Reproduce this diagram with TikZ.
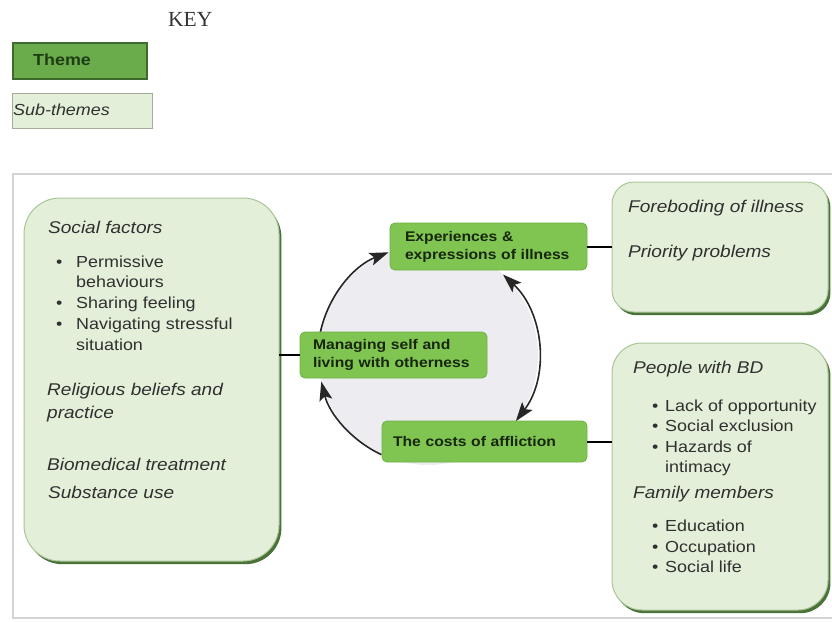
\documentclass[tikz,border=0pt]{standalone}
\usepackage{fontspec}
\setmainfont{Liberation Sans}[FakeStretch=1.12]
\newfontfamily\keyfont{Liberation Serif}
\usetikzlibrary{arrows.meta,shadows}

\definecolor{keygreen}{HTML}{6AAB4B}
\definecolor{keyedge}{HTML}{3E6A2F}
\definecolor{keytext}{HTML}{1F3D14}
\definecolor{keysubedge}{HTML}{A3AB9B}
\definecolor{subfill}{HTML}{E3EFD9}
\definecolor{subedge}{HTML}{A9C597}
\definecolor{subshadow}{HTML}{4A733A}
\definecolor{themefill}{HTML}{80C552}
\definecolor{themeedge}{HTML}{6DB043}
\definecolor{themetext}{HTML}{17260D}
\definecolor{ringfill}{HTML}{ECECF1}
\definecolor{frameline}{HTML}{D4D4D4}
\definecolor{subtext}{HTML}{303030}
\definecolor{arrowgrey}{HTML}{262626}

\tikzset{
  subbox/.style={draw=subedge, line width=1pt, fill=subfill, inner sep=0pt, outer sep=0pt,
    general shadow={fill=subshadow, shadow xshift=2.4pt, shadow yshift=-3.2pt}},
  theme/.style={draw=themeedge, line width=0.8pt, fill=themefill, rounded corners=5pt,
    text=themetext, font=\fontsize{14}{18}\selectfont\bfseries, align=left,
    inner ysep=0pt, outer sep=0pt},
  subhead/.style={anchor=base west, inner sep=0pt, text=subtext,
    font=\fontsize{17}{20}\selectfont\itshape},
  item/.style={anchor=base west, inner sep=0pt, text=subtext,
    font=\fontsize{16}{20}\selectfont},
  ringtip/.tip={Stealth[length=19pt,width=13pt,inset=4pt]},
  arr/.style={draw=arrowgrey, line width=1.6pt, -ringtip},
  arrboth/.style={draw=arrowgrey, line width=1.6pt, ringtip-ringtip},
  link/.style={draw=black, line width=2pt},
}

\begin{document}
\begin{tikzpicture}[x=1pt,y=1pt]
\useasboundingbox (0,0) rectangle (832,-621);

% key
\node[anchor=base west, inner sep=0pt, text=black!80, font=\keyfont\fontsize{21.5}{24}\selectfont]
  (keytitle) at (168,-26) {KEY};
\node[draw=keyedge, line width=1.4pt, fill=keygreen, minimum width=134pt, minimum height=36pt,
  inner sep=0pt] (keytheme) at (80,-61) {};
\node[anchor=base west, inner sep=0pt, text=keytext, font=\fontsize{16}{20}\selectfont\bfseries]
  (keythemetext) at (33,-65) {Theme};
\node[draw=keysubedge, line width=1pt, fill=subfill, minimum width=140pt, minimum height=35pt,
  inner sep=0pt] (keysub) at (82.7,-110.5) {};
\node[anchor=base west, inner sep=0pt, text=subtext, font=\fontsize{16}{20}\selectfont\itshape]
  (keysubtext) at (13,-115) {Sub-themes};

% frame
\draw[frameline, line width=1.2pt] (832,-174) -- (13,-174) -- (13,-618) -- (832,-618);

% ring
\coordinate (C) at (428,-355);
\fill[ringfill] (C) circle[radius=110];
\draw[arr] ([shift={(168:110)}]C) arc[start angle=168, end angle=111, radius=110];
\draw[arrboth] ([shift={(47:110)}]C) arc[start angle=47, end angle=-37, radius=110];
\draw[arr] ([shift={(245:110)}]C) arc[start angle=245, end angle=194, radius=110];

% sub-theme boxes
\node[subbox, rounded corners=36pt, minimum width=255pt, minimum height=363pt]
  (factors) at (151.5,-379.5) {};
\node[subbox, rounded corners=22pt, minimum width=216pt, minimum height=130pt]
  (foreboding) at (720,-247) {};
\node[subbox, rounded corners=30pt, minimum width=216pt, minimum height=267pt]
  (costsbox) at (720,-476.5) {};

% theme boxes
\node[theme, minimum width=187pt, minimum height=46pt, inner xsep=13pt, text width=161pt]
  (manage) at (393.5,-355) {\mbox{Managing self and}\\\mbox{living with otherness}};
\node[theme, minimum width=197pt, minimum height=47pt, inner xsep=15pt, text width=167pt]
  (exp) at (488.5,-246.5) {\mbox{Experiences \&}\\\mbox{expressions of illness}};
\node[theme, minimum width=205pt, minimum height=41pt, inner xsep=11pt, text width=183pt]
  (costs) at (484.5,-441.5) {\mbox{The costs of affliction}};

% links
\draw[link] (manage.west) -- (manage.west -| factors.east);
\draw[link] (exp.east) -- (exp.east -| foreboding.west);
\draw[link] (costs.east) -- (costs.east -| costsbox.west);

% left box text
\node[subhead] (sf) at (48,-233) {Social factors};
\node[item] (b1) at (56,-267) {\textbullet};
\node[item] (t1) at (76,-267) {Permissive};
\node[item] (t1b) at (76,-287) {behaviours};
\node[item] (b2) at (56,-308) {\textbullet};
\node[item] (t2) at (76,-308) {Sharing feeling};
\node[item] (b3) at (56,-329) {\textbullet};
\node[item] (t3) at (76,-329) {Navigating stressful};
\node[item] (t3b) at (76,-350) {situation};
\node[subhead] (rb) at (47,-395) {Religious beliefs and};
\node[subhead] (rbb) at (47,-418) {practice};
\node[subhead] (bt) at (47,-470) {Biomedical treatment};
\node[subhead] (su) at (48,-498) {Substance use};

% top right text
\node[subhead] (fi) at (628,-212) {Foreboding of illness};
\node[subhead] (pp) at (628,-257) {Priority problems};

% bottom right text
\node[subhead] (pbd) at (633,-373) {People with BD};
\node[item] (c1) at (652,-411) {\textbullet};
\node[item] (u1) at (665,-411) {Lack of opportunity};
\node[item] (c2) at (652,-431) {\textbullet};
\node[item] (u2) at (665,-431) {Social exclusion};
\node[item] (c3) at (652,-452) {\textbullet};
\node[item] (u3) at (665,-452) {Hazards of};
\node[item] (u3b) at (665,-472) {intimacy};
\node[subhead] (fm) at (633,-498) {Family members};
\node[item] (d1) at (652,-531) {\textbullet};
\node[item] (v1) at (665,-531) {Education};
\node[item] (d2) at (652,-552) {\textbullet};
\node[item] (v2) at (665,-552) {Occupation};
\node[item] (d3) at (652,-572) {\textbullet};
\node[item] (v3) at (665,-572) {Social life};

\end{tikzpicture}
\end{document}
